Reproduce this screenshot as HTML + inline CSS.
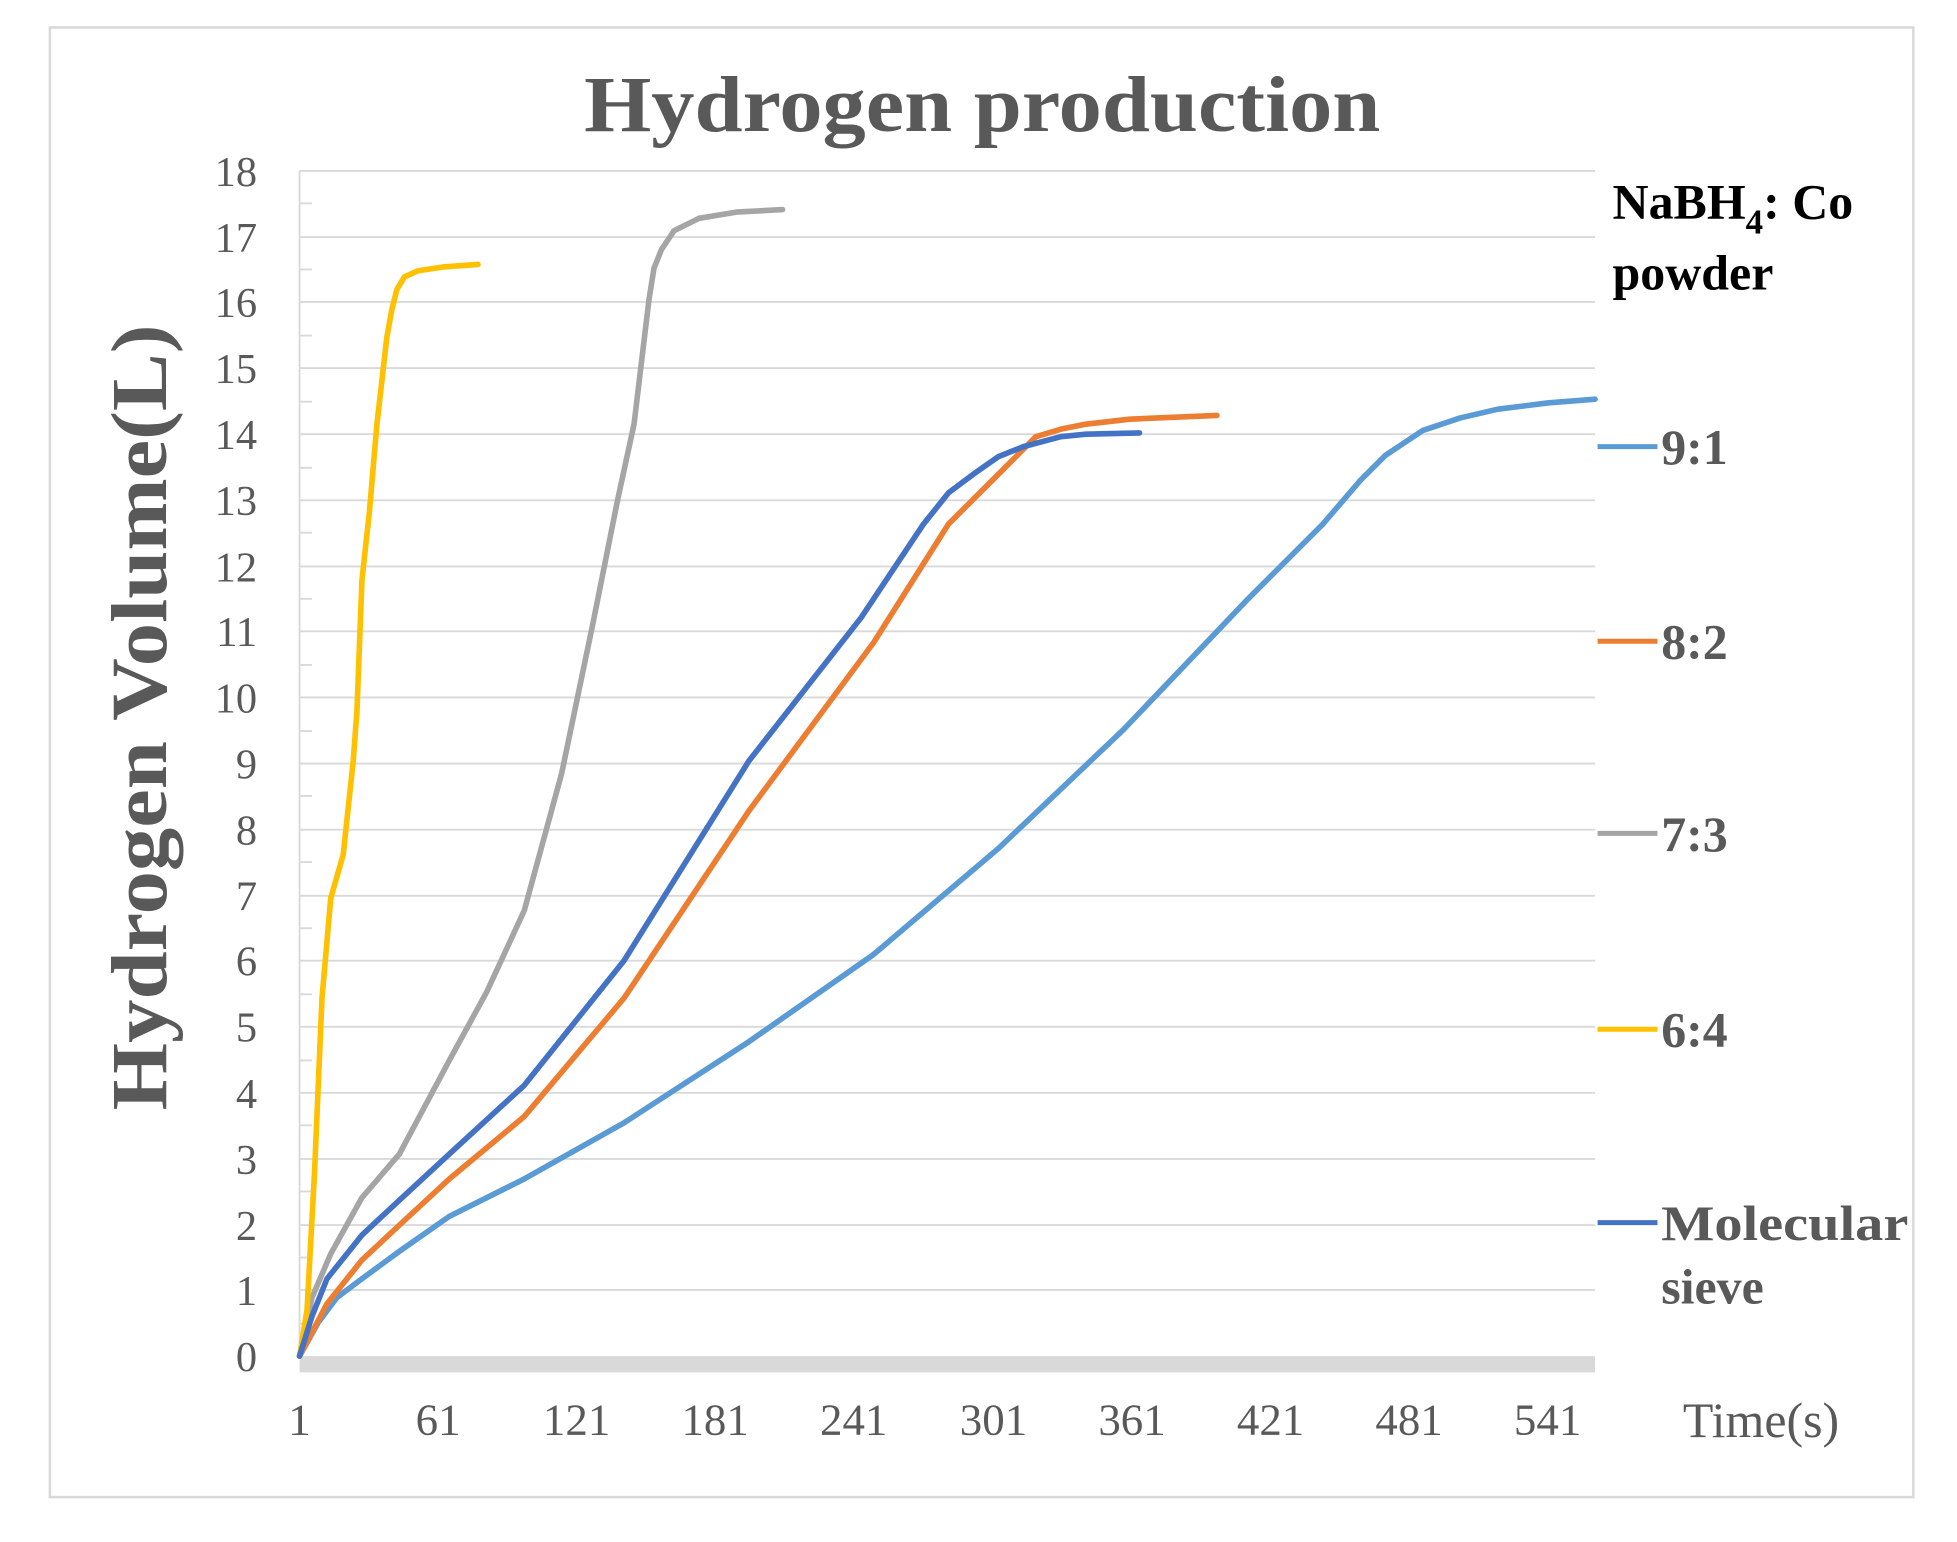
<!DOCTYPE html>
<html><head><meta charset="utf-8"><style>html,body{margin:0;padding:0;background:#fff}svg{display:block}</style></head>
<body>
<svg width="1957" height="1542" viewBox="0 0 1568 1236" preserveAspectRatio="none" xmlns="http://www.w3.org/2000/svg" font-family="'Liberation Serif', serif">
<rect x="0" y="0" width="1568" height="1236" fill="#fff"/>
<rect x="40" y="22" width="1493" height="1178" fill="#fff" stroke="#d9d9d9" stroke-width="2"/>
<text x="468" y="105" textLength="638" lengthAdjust="spacingAndGlyphs" font-size="64" font-weight="bold" fill="#595959">Hydrogen production</text>
<g stroke="#d9d9d9" stroke-width="1.5">
<line x1="240" y1="137" x2="1278" y2="137"/><line x1="240" y1="190" x2="1278" y2="190"/><line x1="240" y1="242" x2="1278" y2="242"/><line x1="240" y1="295" x2="1278" y2="295"/><line x1="240" y1="348" x2="1278" y2="348"/><line x1="240" y1="401" x2="1278" y2="401"/><line x1="240" y1="454" x2="1278" y2="454"/><line x1="240" y1="506" x2="1278" y2="506"/><line x1="240" y1="559" x2="1278" y2="559"/><line x1="240" y1="612" x2="1278" y2="612"/><line x1="240" y1="665" x2="1278" y2="665"/><line x1="240" y1="718" x2="1278" y2="718"/><line x1="240" y1="770" x2="1278" y2="770"/><line x1="240" y1="823" x2="1278" y2="823"/><line x1="240" y1="876" x2="1278" y2="876"/><line x1="240" y1="929" x2="1278" y2="929"/><line x1="240" y1="982" x2="1278" y2="982"/><line x1="240" y1="1034" x2="1278" y2="1034"/>
<line x1="240" y1="137" x2="240" y2="1087"/>
<line x1="240" y1="163" x2="250" y2="163"/><line x1="240" y1="216" x2="250" y2="216"/><line x1="240" y1="269" x2="250" y2="269"/><line x1="240" y1="322" x2="250" y2="322"/><line x1="240" y1="375" x2="250" y2="375"/><line x1="240" y1="427" x2="250" y2="427"/><line x1="240" y1="480" x2="250" y2="480"/><line x1="240" y1="533" x2="250" y2="533"/><line x1="240" y1="586" x2="250" y2="586"/><line x1="240" y1="638" x2="250" y2="638"/><line x1="240" y1="691" x2="250" y2="691"/><line x1="240" y1="744" x2="250" y2="744"/><line x1="240" y1="797" x2="250" y2="797"/><line x1="240" y1="850" x2="250" y2="850"/><line x1="240" y1="902" x2="250" y2="902"/><line x1="240" y1="955" x2="250" y2="955"/><line x1="240" y1="1008" x2="250" y2="1008"/><line x1="240" y1="1061" x2="250" y2="1061"/>
</g>
<rect x="240" y="1087" width="1038" height="13" fill="#d9d9d9"/>
<g font-size="34" fill="#595959" text-anchor="end">
<text x="206" y="149">18</text><text x="206" y="202">17</text><text x="206" y="254">16</text><text x="206" y="307">15</text><text x="206" y="360">14</text><text x="206" y="413">13</text><text x="206" y="466">12</text><text x="206" y="518">11</text><text x="206" y="571">10</text><text x="206" y="624">9</text><text x="206" y="677">8</text><text x="206" y="730">7</text><text x="206" y="782">6</text><text x="206" y="835">5</text><text x="206" y="888">4</text><text x="206" y="941">3</text><text x="206" y="994">2</text><text x="206" y="1046">1</text><text x="206" y="1099">0</text>
</g>
<g font-size="36" fill="#595959" text-anchor="middle">
<text x="240" y="1150">1</text><text x="351" y="1150">61</text><text x="462" y="1150">121</text><text x="573" y="1150">181</text><text x="684" y="1150">241</text><text x="796" y="1150">301</text><text x="907" y="1150">361</text><text x="1018" y="1150">421</text><text x="1129" y="1150">481</text><text x="1240" y="1150">541</text>
<text x="1411" y="1152" font-size="40">Time(s)</text>
</g>
<text transform="translate(133,890) rotate(-90)" textLength="630" lengthAdjust="spacingAndGlyphs" font-size="64" font-weight="bold" fill="#595959">Hydrogen Volume(L)</text>
<g fill="none" stroke-width="4.5" stroke-linejoin="round" stroke-linecap="round">
<polyline stroke="#5B9BD5" points="240,1087 255,1060 270,1040 290,1025 320,1003 360,975 420,945 500,900 600,835 700,765 800,680 900,585 1000,480 1060,420 1090,385 1110,365 1140,345 1170,335 1200,328 1240,323 1278,320"/>
<polyline stroke="#ED7D31" points="240,1087 250,1068 262,1045 290,1010 320,982 360,945 420,895 500,800 600,650 700,515 760,420 800,380 830,350 850,344 870,340 905,336 975,333"/>
<polyline stroke="#A5A5A5" points="240,1087 250,1040 265,1005 290,960 320,925 360,850 390,795 420,730 450,620 475,500 495,400 508,340 514,290 520,240 524,215 530,200 540,185 560,175 590,170 627,168"/>
<polyline stroke="#FFC000" points="240,1087 246,1050 252,940 258,800 265,720 275,685 283,610 286,570 290,465 296,410 302,340 310,270 314,248 318,232 324,222 335,217 355,214 383,212"/>
<polyline stroke="#4472C4" points="240,1087 250,1055 262,1025 290,990 320,962 360,925 420,870 500,770 600,610 690,495 740,420 760,395 780,380 800,366 820,358 850,350 870,348 913,347"/>
</g>
<g stroke-width="4">
<line x1="1280" y1="358" x2="1328" y2="358" stroke="#5B9BD5"/>
<line x1="1280" y1="514" x2="1328" y2="514" stroke="#ED7D31"/>
<line x1="1280" y1="668" x2="1328" y2="668" stroke="#A5A5A5"/>
<line x1="1280" y1="825" x2="1328" y2="825" stroke="#FFC000"/>
<line x1="1280" y1="980" x2="1328" y2="980" stroke="#4472C4"/>
</g>
<g font-size="40" font-weight="bold" fill="#595959">
<text x="1331" y="372">9:1</text>
<text x="1331" y="528">8:2</text>
<text x="1331" y="682">7:3</text>
<text x="1331" y="839">6:4</text>
<text x="1331" y="994" textLength="198" lengthAdjust="spacingAndGlyphs">Molecular</text>
<text x="1331" y="1045">sieve</text>
</g>
<g font-size="40" font-weight="bold" fill="#000">
<text x="1292" y="175">NaBH<tspan font-size="28" dy="12">4</tspan><tspan dy="-12">: Co</tspan></text>
<text x="1292" y="232">powder</text>
</g>
</svg>
</body></html>
